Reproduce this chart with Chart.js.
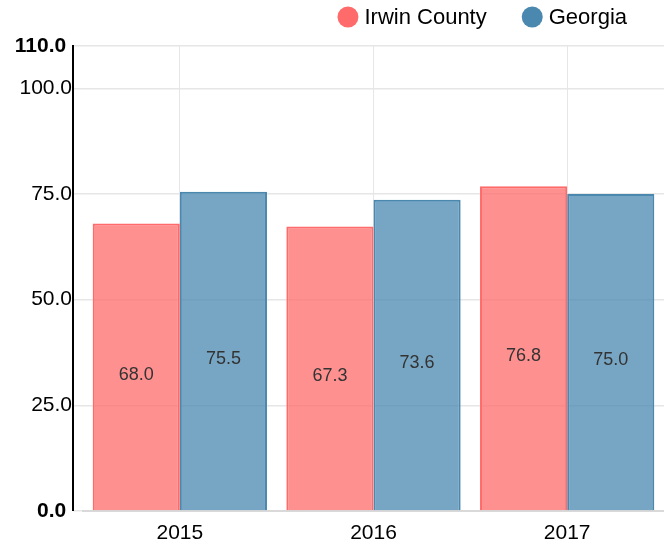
<!DOCTYPE html>
<html>
<head>
<meta charset="utf-8">
<script src="https://cdn.jsdelivr.net/npm/chart.js@4/dist/chart.umd.min.js"></script>
<style>
  html, body { margin: 0; padding: 0; background: #fff; }
  #wrap { width: 664px; height: 544px; position: relative; }
</style>
</head>
<body>
<div id="wrap"><canvas id="c" width="664" height="544"></canvas></div>
<script>
const categories = ["2015", "2016", "2017"];
const seriesNames = ["Irwin County", "Georgia"];
const irwinValues = [68.0, 67.3, 76.8];
const georgiaValues = [75.5, 73.6, 75.0];
const yTicks = [0, 25, 50, 75, 100, 110];

const FONT = "'Liberation Sans', Arial, Helvetica, sans-serif";
const RED = "rgb(255,107,107)";
const BLUE = "rgb(74,136,176)";

const customPlugin = {
  id: "custom",
  afterDatasetsDraw(chart) {
    const ctx = chart.ctx;
    ctx.save();
    ctx.font = "18px " + FONT;
    ctx.fillStyle = "#333";
    ctx.textAlign = "center";
    ctx.textBaseline = "middle";
    chart.data.datasets.forEach((ds, i) => {
      const meta = chart.getDatasetMeta(i);
      meta.data.forEach((bar, j) => {
        const y = (bar.y + bar.base) / 2 + 8;
        ctx.fillText(ds.data[j].toFixed(1), bar.x, y);
      });
    });
    ctx.restore();
  },
  afterDraw(chart) {
    const ctx = chart.ctx;
    const area = chart.chartArea;
    ctx.save();
    ctx.strokeStyle = "#000";
    ctx.lineWidth = 2;
    ctx.beginPath();
    ctx.moveTo(area.left - 10, area.top - 1);
    ctx.lineTo(area.left - 10, area.bottom);
    ctx.stroke();
    ctx.restore();
    ctx.save();
    ctx.font = "22px " + FONT;
    ctx.textBaseline = "middle";
    ctx.textAlign = "left";
    const cy = 17, r = 10.5, gapText = 6, gapItem = 35;
    let right = 627;
    const items = chart.data.datasets.map((d) => ({ label: d.label, color: d.borderColor }));
    for (let k = items.length - 1; k >= 0; k--) {
      const w = ctx.measureText(items[k].label).width;
      const tx = right - w;
      const cx = tx - gapText - r;
      ctx.fillStyle = items[k].color;
      ctx.beginPath();
      ctx.arc(cx, cy, r, 0, Math.PI * 2);
      ctx.fill();
      ctx.fillStyle = "#000";
      ctx.fillText(items[k].label, tx, cy + 1);
      right = cx - r - gapItem;
    }
    ctx.restore();
  }
};

new Chart(document.getElementById("c"), {
  type: "bar",
  data: {
    labels: categories,
    datasets: [
      {
        label: seriesNames[0],
        data: irwinValues,
        backgroundColor: "rgba(255,107,107,0.75)",
        borderColor: RED,
        borderWidth: 2
      },
      {
        label: seriesNames[1],
        data: georgiaValues,
        backgroundColor: "rgba(74,136,176,0.75)",
        borderColor: BLUE,
        borderWidth: 2
      }
    ]
  },
  options: {
    responsive: false,
    animation: false,
    layout: { padding: { top: 46, right: 0, left: 0, bottom: 0 } },
    datasets: { bar: { categoryPercentage: 0.9, barPercentage: 1.0 } },
    plugins: {
      legend: { display: false },
      tooltip: { enabled: false }
    },
    scales: {
      x: {
        afterFit(scale) { scale.height = 33; },
        grid: { color: "#e6e6e6", offset: false, drawTicks: false, lineWidth: 1 },
        border: { color: "#d9d9d9", width: 2 },
        ticks: { color: "#000", font: { family: FONT, size: 21 }, padding: 10 }
      },
      y: {
        min: 0,
        max: 110,
        afterBuildTicks(scale) {
          scale.ticks = yTicks.map((v) => ({ value: v }));
        },
        afterFit(scale) { scale.width = 83; },
        grid: { color: "#e6e6e6", tickLength: 10, lineWidth: 1.5 },
        border: { display: false },
        ticks: {
          color: "#000",
          padding: 1,
          font: (c) => ({
            family: FONT,
            size: 21,
            weight: (c.tick && (c.tick.value === 0 || c.tick.value === 110)) ? "bold" : "normal"
          }),
          callback: (v) => (v === 0 || v === 110) ? v.toFixed(1) + " " : v.toFixed(1)
        }
      }
    }
  },
  plugins: [customPlugin]
});
</script>
</body>
</html>
